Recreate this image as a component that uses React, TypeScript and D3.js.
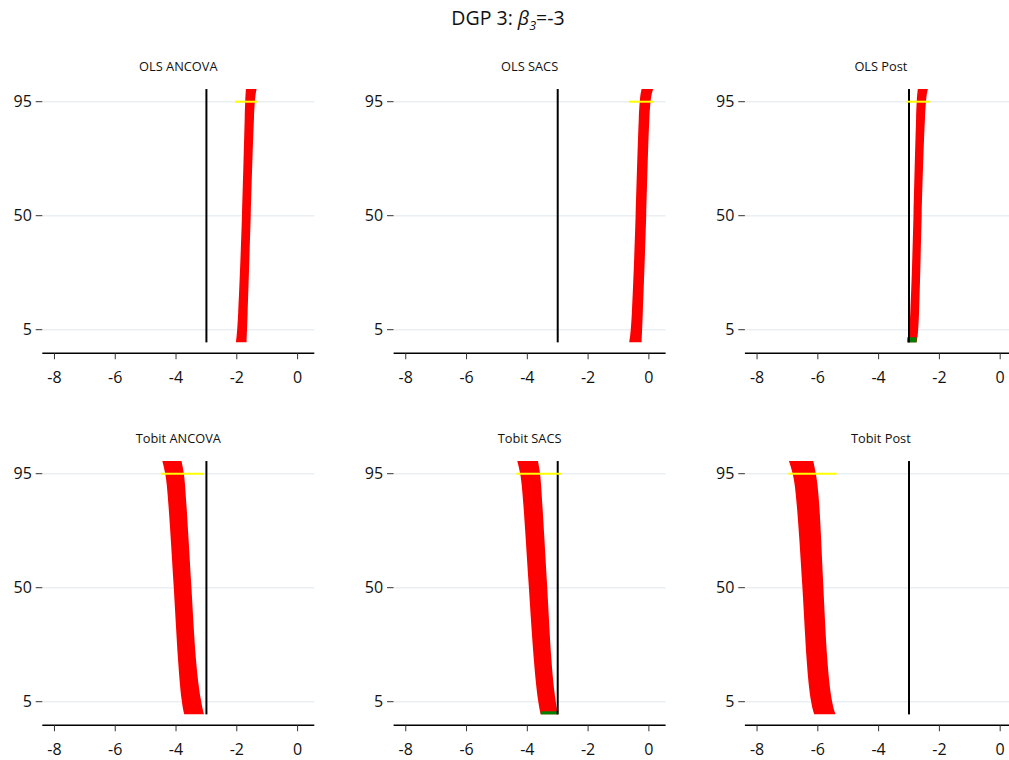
import React from "react";
import * as d3 from "d3";

// Panel titles (row-major order)
const panelTitles = ["OLS ANCOVA", "OLS SACS", "OLS Post", "Tobit ANCOVA", "Tobit SACS", "Tobit Post"];

// Percentile levels where band edges were read
const levelsTop = [0, 5, 50, 95, 100];
const levelsBottom = [0, 5, 19, 50, 86, 95, 100];

// Lower / upper edges of the sorted-interval band per panel
const lowOLSANCOVA = [-2.03, -1.97, -1.82, -1.73, -1.7];
const highOLSANCOVA = [-1.68, -1.66, -1.54, -1.43, -1.35];
const lowOLSSACS = [-0.65, -0.57, -0.43, -0.33, -0.24];
const highOLSSACS = [-0.24, -0.22, -0.08, 0.01, 0.14];
const lowOLSPost = [-3.06, -2.96, -2.85, -2.76, -2.71];
const highOLSPost = [-2.75, -2.67, -2.59, -2.47, -2.38];
const lowTobitANCOVA = [-3.73, -3.82, -3.93, -4.07, -4.26, -4.34, -4.45];
const highTobitANCOVA = [-3.08, -3.18, -3.35, -3.49, -3.67, -3.73, -3.82];
const lowTobitSACS = [-3.56, -3.65, -3.78, -3.95, -4.14, -4.22, -4.33];
const highTobitSACS = [-2.99, -3.07, -3.21, -3.34, -3.52, -3.57, -3.65];
const lowTobitPost = [-6.12, -6.24, -6.37, -6.5, -6.7, -6.81, -6.95];
const highTobitPost = [-5.42, -5.55, -5.69, -5.82, -5.95, -6.06, -6.15];

// Covering intervals (green) at the bottom of the band: [top level, low, high]
const greenTop = [0, 0, 2, 0, 1.2, 0];
const greenLow = [0, 0, -3.06, 0, -3.56, 0];
const greenHigh = [0, 0, -2.75, 0, -2.99, 0];

// Yellow reference interval at level 95
const yellowLow = [-2.06, -0.66, -3.08, -4.5, -4.36, -6.97];
const yellowHigh = [-1.33, 0.17, -2.3, -3.08, -2.88, -5.38];

const trueBeta = -3;
const xTicks = [-8, -6, -4, -2, 0];
const yTicks = [5, 50, 95];
const xDomain = [-8.4, 0.55];

const lows = [lowOLSANCOVA, lowOLSSACS, lowOLSPost, lowTobitANCOVA, lowTobitSACS, lowTobitPost];
const highs = [highOLSANCOVA, highOLSSACS, highOLSPost, highTobitANCOVA, highTobitSACS, highTobitPost];

const FONT = "'Open Sans', 'DejaVu Sans', sans-serif";

function Panel({ idx }: { idx: number }) {
  const col = idx % 3;
  const row = Math.floor(idx / 3);
  const x = d3.scaleLinear().domain(xDomain).range([42.3 + 351.3 * col, 314.3 + 351.3 * col]);
  const y = d3.scaleLinear().domain([5, 95]).range([329.7 + 372 * row, 101.7 + 372 * row]);
  const levels = row === 0 ? levelsTop : levelsBottom;
  const data = levels.map((v, i) => ({ v, lo: lows[idx][i], hi: highs[idx][i] }));
  const area = d3
    .area<{ v: number; lo: number; hi: number }>()
    .y((d) => y(d.v))
    .x0((d) => x(d.lo))
    .x1((d) => x(d.hi))
    .curve(d3.curveBasis);
  const [x0, x1] = x.range();
  const axisY = y(-4.3);
  const cx = (x0 + x1) / 2;
  return (
    <g>
      <text x={cx} y={y(95) - 31} textAnchor="middle" fontSize={12.8} fontFamily={FONT} fill="#111">
        {panelTitles[idx]}
      </text>
      {yTicks.map((t) => (
        <g key={t}>
          <line x1={x0} x2={x1} y1={y(t)} y2={y(t)} stroke="#eaeff3" strokeWidth={1.6} />
          <line x1={x0 - 6.6} x2={x0} y1={y(t)} y2={y(t)} stroke="#333" strokeWidth={1} />
          <text x={x0 - 10.5} y={y(t)} dy="0.36em" textAnchor="end" fontSize={16} fontFamily={FONT} fill="#111">
            {t}
          </text>
        </g>
      ))}
      <path d={area(data) || ""} fill="#ff0000" />
      {greenTop[idx] > 0 && (
        <rect
          x={x(greenLow[idx])}
          y={y(greenTop[idx])}
          width={x(greenHigh[idx]) - x(greenLow[idx])}
          height={y(0) - y(greenTop[idx])}
          fill="#008000"
        />
      )}
      <line x1={x(trueBeta)} x2={x(trueBeta)} y1={y(0)} y2={y(100)} stroke="#000" strokeWidth={2} />
      <line x1={x(yellowLow[idx])} x2={x(yellowHigh[idx])} y1={y(95)} y2={y(95)} stroke="#ffff00" strokeWidth={2} />
      <line x1={x0} x2={x1} y1={axisY} y2={axisY} stroke="#000" strokeWidth={1.3} />
      {xTicks.map((t) => (
        <g key={t}>
          <line x1={x(t)} x2={x(t)} y1={axisY} y2={axisY + 6} stroke="#333" strokeWidth={1} />
          <text x={x(t)} y={axisY + 30} textAnchor="middle" fontSize={16} fontFamily={FONT} fill="#111">
            {t}
          </text>
        </g>
      ))}
    </g>
  );
}

export default function App() {
  return (
    <svg
      width={1009}
      height={760}
      style={{ position: "absolute", left: 0, top: 0, background: "#fff" }}
    >
      <text x={508} y={25} textAnchor="middle" fontSize={19.5} fontFamily={FONT} fill="#111">
        DGP 3: <tspan fontStyle="italic">β</tspan>
        <tspan fontStyle="italic" fontSize={12.5} dy={4.5}>3</tspan>
        <tspan dy={-4.5}>=-3</tspan>
      </text>
      {panelTitles.map((_, i) => (
        <Panel key={i} idx={i} />
      ))}
    </svg>
  );
}
